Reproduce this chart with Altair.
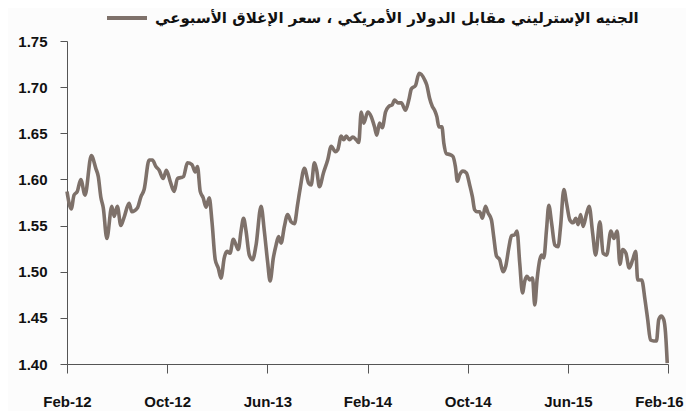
import altair as alt
import pandas as pd

# months since Feb-2012 and weekly GBP/USD close
months = [0.0,0.34,0.56,0.82,1.10,1.44,1.94,2.30,2.50,2.70,2.90,3.18,3.58,3.76,4.02,4.30,4.56,4.96,5.18,5.62,5.90,6.16,6.56,6.82,7.10,7.36,7.68,7.94,8.24,8.56,8.82,9.10,
          9.30,9.62,9.98,10.24,10.42,10.64,10.88,11.10,11.36,11.58,11.84,12.08,12.30,12.56,12.78,13.02,13.28,13.50,13.68,13.90,14.10,14.30,14.56,14.82,15.10,15.50,15.76,16.02,16.22,16.48,16.70,16.90,17.10,17.36,17.62,17.90,18.16,18.42,18.62,18.96,
          19.30,19.50,19.76,19.94,20.16,20.48,20.82,21.10,21.44,21.62,21.90,22.10,22.30,22.56,22.82,23.10,23.30,23.50,23.70,24.02,24.30,24.56,24.74,24.96,25.18,25.44,25.70,25.98,26.16,26.42,26.70,27.04,27.30,27.50,27.84,28.12,28.56,
          28.74,28.96,29.18,29.36,29.54,29.70,29.94,30.10,30.30,30.56,30.82,31.02,31.18,31.36,31.62,31.90,32.16,32.38,32.56,32.74,32.96,33.18,33.42,33.62,33.90,34.08,34.30,34.56,34.82,35.04,35.30,35.50,35.76,35.94,36.16,36.38,36.56,36.74,36.96,37.18,37.36,37.54,37.76,37.90,38.08,
          38.30,38.48,38.70,38.96,39.22,39.42,39.68,39.90,40.16,40.42,40.64,40.82,41.02,41.22,41.50,41.70,41.98,42.22,42.56,42.82,43.10,43.44,43.68,43.94,44.16,44.38,44.64,44.90,45.18,45.42,45.58,45.90,46.16,46.38,46.60,46.86,47.08,47.26,47.46,47.66,47.80,47.94]

values = [1.587,1.568,1.583,1.587,1.600,1.583,1.626,1.612,1.603,1.581,1.569,1.536,1.571,1.560,1.571,1.550,1.559,1.574,1.565,1.569,1.581,1.589,1.621,1.621,1.614,1.610,1.601,1.610,1.598,1.587,1.601,1.602,
          1.603,1.618,1.616,1.608,1.614,1.587,1.580,1.570,1.580,1.554,1.513,1.504,1.493,1.515,1.522,1.520,1.535,1.529,1.524,1.544,1.558,1.544,1.518,1.513,1.529,1.571,1.544,1.511,1.490,1.515,1.529,1.538,1.531,1.549,1.562,1.554,1.552,1.573,1.590,1.612,
          1.596,1.594,1.618,1.610,1.592,1.607,1.621,1.636,1.630,1.632,1.647,1.643,1.647,1.643,1.646,1.643,1.640,1.673,1.661,1.673,1.668,1.657,1.648,1.661,1.656,1.673,1.679,1.681,1.686,1.683,1.683,1.675,1.686,1.698,1.702,1.715,1.708,
          1.702,1.688,1.679,1.675,1.668,1.657,1.657,1.639,1.628,1.627,1.625,1.614,1.598,1.605,1.609,1.607,1.594,1.581,1.567,1.565,1.565,1.558,1.571,1.564,1.556,1.538,1.517,1.513,1.500,1.506,1.527,1.539,1.540,1.544,1.509,1.477,1.490,1.495,1.491,1.493,1.464,1.491,1.513,1.518,1.515,
          1.546,1.572,1.553,1.529,1.527,1.549,1.589,1.574,1.556,1.553,1.558,1.551,1.562,1.549,1.563,1.571,1.542,1.518,1.554,1.520,1.518,1.544,1.536,1.544,1.508,1.524,1.520,1.504,1.513,1.522,1.491,1.491,1.470,1.448,1.426,1.425,1.425,1.448,1.452,1.448,1.434,1.401]

assert len(months) == len(values)

x_tick_values = [0, 8, 16, 24, 32, 40, 48]
x_tick_labels = ["Feb-12", "Oct-12", "Jun-13", "Feb-14", "Oct-14", "Jun-15", "Feb-16"]
y_ticks = [1.40, 1.45, 1.50, 1.55, 1.60, 1.65, 1.70, 1.75]
series_name = "الجنيه الإسترليني مقابل الدولار الأمريكي ، سعر الإغلاق الأسبوعي"
line_color = "#7e716a"

df = pd.DataFrame({"m": months, "v": values, "s": series_name})

label_expr = "[" + ",".join("'" + t + "'" for t in x_tick_labels) + "][round(datum.value/8)]"

axis_font = "Liberation Sans"

chart = alt.Chart(df).mark_line(strokeWidth=3.6, interpolate="monotone").encode(
    x=alt.X("m:Q",
            scale=alt.Scale(domain=[0, 48], nice=False, zero=False),
            axis=alt.Axis(values=x_tick_values, labelExpr=label_expr, title=None, grid=False,
                          tickSize=9, labelPadding=21, labelFontSize=15, labelFontWeight="bold",
                          labelFont=axis_font, labelColor="#111111", domainColor="#555555",
                          tickColor="#555555", labelFlush=False,
                          labelOffset={"condition": {"test": "datum.value >= 48", "value": -9}, "value": 0})),
    y=alt.Y("v:Q",
            scale=alt.Scale(domain=[1.40, 1.75], nice=False, zero=False),
            axis=alt.Axis(values=y_ticks, format=".2f", title=None, grid=False,
                          tickSize=7, labelPadding=13, labelFontSize=15, labelFontWeight="bold",
                          labelFont=axis_font, labelColor="#111111", domainColor="#555555",
                          tickColor="#555555")),
    color=alt.Color("s:N", scale=alt.Scale(range=[line_color]),
                    legend=alt.Legend(title=None, orient="none", legendX=38, legendY=-45,
                                      symbolType="stroke", symbolSize=1600, symbolStrokeWidth=4,
                                      labelFont="DejaVu Sans", labelFontSize=15, labelFontWeight="bold",
                                      labelColor="#111111", labelLimit=800, labelOffset=6)),
).properties(
    width=601,
    height=323,
    autosize=alt.AutoSizeParams(type="none"),
    padding={"left": 59, "top": 33, "right": 18, "bottom": 47},
    background="#fcfcfc",
).configure_view(stroke=None)

chart.save("out.html", embed_options={"renderer": "svg", "actions": False})
